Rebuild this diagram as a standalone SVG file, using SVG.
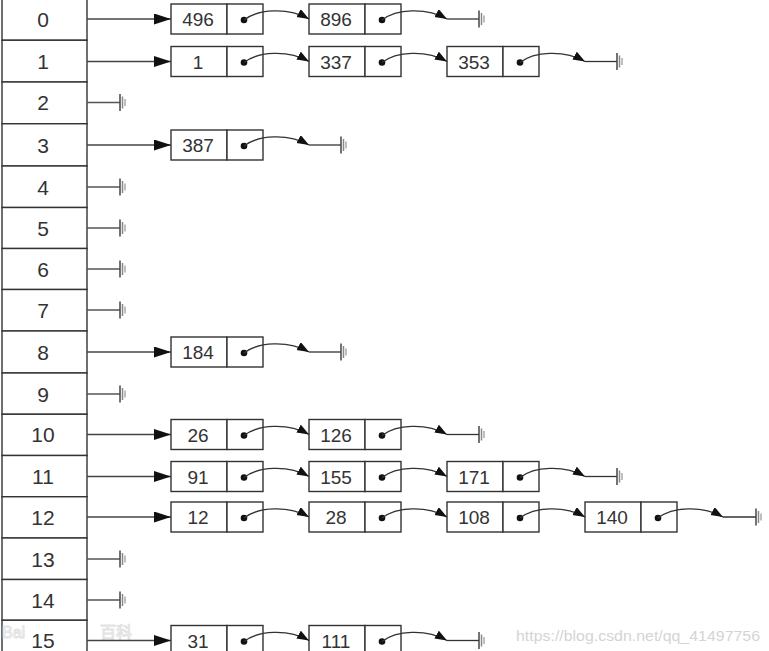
<svg xmlns="http://www.w3.org/2000/svg" xmlns:xlink="http://www.w3.org/1999/xlink" width="769" height="651" viewBox="0 0 769 651">
<style>
.cell{fill:#fff;stroke:#333;stroke-width:1.4}
.box{fill:#fff;stroke:#333;stroke-width:1.4}
.idx{font-family:"Liberation Sans",Arial,sans-serif;font-size:21px;fill:#333;text-anchor:middle}
.val{font-family:"Liberation Sans",Arial,sans-serif;font-size:19px;fill:#333;text-anchor:middle}
.dot{fill:#111}
.head{fill:none;stroke:#444;stroke-width:1.4;marker-end:url(#bigArrow)}
.link{fill:none;stroke:#333;stroke-width:1.3;marker-end:url(#smallArrow)}
.tail{fill:none;stroke:#333;stroke-width:1.3}
.nul{fill:none;stroke:#555;stroke-width:1.4}
.wm{font-family:"Liberation Sans",Arial,sans-serif;font-size:15px;fill:#d4d4d4}
.wm2{font-family:"Liberation Sans","Noto Sans CJK SC",sans-serif;font-size:16px;fill:none;stroke:#e2e2e2;stroke-width:1}
</style>
<defs>
<marker id="bigArrow" markerUnits="userSpaceOnUse" markerWidth="18" markerHeight="12" refX="17" refY="5.5" orient="auto">
<path d="M0,0 L17,5.5 L0,11 z" fill="#111"/>
</marker>
<marker id="smallArrow" markerUnits="userSpaceOnUse" markerWidth="13" markerHeight="10" refX="12" refY="4.5" orient="auto">
<path d="M0,0 L12,4.5 L0,9 z" fill="#111"/>
</marker>
<g id="gnd">
<line x1="0" y1="-8.5" x2="0" y2="8.5" stroke="#444" stroke-width="1.5"/>
<line x1="2.5" y1="-6" x2="2.5" y2="6" stroke="#888" stroke-width="1.5"/>
<line x1="5" y1="-3.5" x2="5" y2="3.5" stroke="#aaa" stroke-width="1.5"/>
</g>
</defs>

<g id="table">
<g id="slot-0"><rect class="cell" x="2" y="-3" width="85" height="43.25"/><text class="idx" x="43" y="26.5">0</text></g>
<g id="slot-1"><rect class="cell" x="2" y="40.25" width="85" height="41.75"/><text class="idx" x="43" y="69">1</text></g>
<g id="slot-2"><rect class="cell" x="2" y="82" width="85" height="41.75"/><text class="idx" x="43" y="110">2</text></g>
<g id="slot-3"><rect class="cell" x="2" y="123.75" width="85" height="42.25"/><text class="idx" x="43" y="152.5">3</text></g>
<g id="slot-4"><rect class="cell" x="2" y="166" width="85" height="41.5"/><text class="idx" x="43" y="194.5">4</text></g>
<g id="slot-5"><rect class="cell" x="2" y="207.5" width="85" height="41"/><text class="idx" x="43" y="235.5">5</text></g>
<g id="slot-6"><rect class="cell" x="2" y="248.5" width="85" height="41"/><text class="idx" x="43" y="276.5">6</text></g>
<g id="slot-7"><rect class="cell" x="2" y="289.5" width="85" height="41.5"/><text class="idx" x="43" y="317.5">7</text></g>
<g id="slot-8"><rect class="cell" x="2" y="331" width="85" height="42"/><text class="idx" x="43" y="359.5">8</text></g>
<g id="slot-9"><rect class="cell" x="2" y="373" width="85" height="41.25"/><text class="idx" x="43" y="401.5">9</text></g>
<g id="slot-10"><rect class="cell" x="2" y="414.25" width="85" height="41.25"/><text class="idx" x="43" y="442">10</text></g>
<g id="slot-11"><rect class="cell" x="2" y="455.5" width="85" height="41.25"/><text class="idx" x="43" y="484">11</text></g>
<g id="slot-12"><rect class="cell" x="2" y="496.75" width="85" height="41.25"/><text class="idx" x="43" y="524.5">12</text></g>
<g id="slot-13"><rect class="cell" x="2" y="538" width="85" height="41.5"/><text class="idx" x="43" y="566.5">13</text></g>
<g id="slot-14"><rect class="cell" x="2" y="579.5" width="85" height="40.75"/><text class="idx" x="43" y="607.5">14</text></g>
<g id="slot-15"><rect class="cell" x="2" y="620.25" width="85" height="41.75"/><text class="idx" x="43" y="648">15</text></g>
</g>

<g id="watermark">
<text class="wm2" x="2" y="638">Bai</text>
<text class="wm2" x="100" y="638">百科</text>
<text class="wm" x="516" y="641" textLength="244" lengthAdjust="spacingAndGlyphs">https://blog.csdn.net/qq_41497756</text>
</g>

<g id="n-0-496"><rect class="box" x="171" y="4" width="56" height="30"/><rect class="box" x="227" y="4" width="36" height="30"/><text class="val" x="198" y="26">496</text><circle class="dot" cx="244" cy="20" r="3.3"/></g>
<g id="n-0-896"><rect class="box" x="309" y="4" width="56" height="30"/><rect class="box" x="365" y="4" width="36" height="30"/><text class="val" x="336" y="26">896</text><circle class="dot" cx="382" cy="20" r="3.3"/></g>

<g id="n-1-1"><rect class="box" x="171" y="46.5" width="56" height="30"/><rect class="box" x="227" y="46.5" width="36" height="30"/><text class="val" x="198" y="68.5">1</text><circle class="dot" cx="244" cy="62.5" r="3.3"/></g>
<g id="n-1-337"><rect class="box" x="309" y="46.5" width="56" height="30"/><rect class="box" x="365" y="46.5" width="36" height="30"/><text class="val" x="336" y="68.5">337</text><circle class="dot" cx="382" cy="62.5" r="3.3"/></g>
<g id="n-1-353"><rect class="box" x="447" y="46.5" width="56" height="30"/><rect class="box" x="503" y="46.5" width="36" height="30"/><text class="val" x="474" y="68.5">353</text><circle class="dot" cx="520" cy="62.5" r="3.3"/></g>

<g id="n-3-387"><rect class="box" x="171" y="130" width="56" height="30"/><rect class="box" x="227" y="130" width="36" height="30"/><text class="val" x="198" y="152">387</text><circle class="dot" cx="244" cy="146" r="3.3"/></g>

<g id="n-8-184"><rect class="box" x="171" y="337" width="56" height="30"/><rect class="box" x="227" y="337" width="36" height="30"/><text class="val" x="198" y="359">184</text><circle class="dot" cx="244" cy="353" r="3.3"/></g>

<g id="n-10-26"><rect class="box" x="171" y="419.5" width="56" height="30"/><rect class="box" x="227" y="419.5" width="36" height="30"/><text class="val" x="198" y="441.5">26</text><circle class="dot" cx="244" cy="435.5" r="3.3"/></g>
<g id="n-10-126"><rect class="box" x="309" y="419.5" width="56" height="30"/><rect class="box" x="365" y="419.5" width="36" height="30"/><text class="val" x="336" y="441.5">126</text><circle class="dot" cx="382" cy="435.5" r="3.3"/></g>

<g id="n-11-91"><rect class="box" x="171" y="461.5" width="56" height="30"/><rect class="box" x="227" y="461.5" width="36" height="30"/><text class="val" x="198" y="483.5">91</text><circle class="dot" cx="244" cy="477.5" r="3.3"/></g>
<g id="n-11-155"><rect class="box" x="309" y="461.5" width="56" height="30"/><rect class="box" x="365" y="461.5" width="36" height="30"/><text class="val" x="336" y="483.5">155</text><circle class="dot" cx="382" cy="477.5" r="3.3"/></g>
<g id="n-11-171"><rect class="box" x="447" y="461.5" width="56" height="30"/><rect class="box" x="503" y="461.5" width="36" height="30"/><text class="val" x="474" y="483.5">171</text><circle class="dot" cx="520" cy="477.5" r="3.3"/></g>

<g id="n-12-12"><rect class="box" x="171" y="502" width="56" height="30"/><rect class="box" x="227" y="502" width="36" height="30"/><text class="val" x="198" y="524">12</text><circle class="dot" cx="244" cy="518" r="3.3"/></g>
<g id="n-12-28"><rect class="box" x="309" y="502" width="56" height="30"/><rect class="box" x="365" y="502" width="36" height="30"/><text class="val" x="336" y="524">28</text><circle class="dot" cx="382" cy="518" r="3.3"/></g>
<g id="n-12-108"><rect class="box" x="447" y="502" width="56" height="30"/><rect class="box" x="503" y="502" width="36" height="30"/><text class="val" x="474" y="524">108</text><circle class="dot" cx="520" cy="518" r="3.3"/></g>
<g id="n-12-140"><rect class="box" x="585" y="502" width="56" height="30"/><rect class="box" x="641" y="502" width="36" height="30"/><text class="val" x="612" y="524">140</text><circle class="dot" cx="658" cy="518" r="3.3"/></g>

<g id="n-15-31"><rect class="box" x="171" y="625.5" width="56" height="30"/><rect class="box" x="227" y="625.5" width="36" height="30"/><text class="val" x="198" y="647.5">31</text><circle class="dot" cx="244" cy="641.5" r="3.3"/></g>
<g id="n-15-111"><rect class="box" x="309" y="625.5" width="56" height="30"/><rect class="box" x="365" y="625.5" width="36" height="30"/><text class="val" x="336" y="647.5">111</text><circle class="dot" cx="382" cy="641.5" r="3.3"/></g>

<g id="connectors">
<path class="head" d="M87,19 H171"/>
<path class="head" d="M87,61.5 H171"/>
<path class="head" d="M87,145 H171"/>
<path class="head" d="M87,352 H171"/>
<path class="head" d="M87,434.5 H171"/>
<path class="head" d="M87,476.5 H171"/>
<path class="head" d="M87,517 H171"/>
<path class="head" d="M87,640.5 H171"/>
<path class="nul" d="M87,102.5 H120"/><use xlink:href="#gnd" x="120" y="102.5"/>
<path class="nul" d="M87,187 H120"/><use xlink:href="#gnd" x="120" y="187"/>
<path class="nul" d="M87,228 H120"/><use xlink:href="#gnd" x="120" y="228"/>
<path class="nul" d="M87,269 H120"/><use xlink:href="#gnd" x="120" y="269"/>
<path class="nul" d="M87,310 H120"/><use xlink:href="#gnd" x="120" y="310"/>
<path class="nul" d="M87,394 H120"/><use xlink:href="#gnd" x="120" y="394"/>
<path class="nul" d="M87,559 H120"/><use xlink:href="#gnd" x="120" y="559"/>
<path class="nul" d="M87,600 H120"/><use xlink:href="#gnd" x="120" y="600"/>
<path class="link" d="M244,20 C258,9 288,7 309,19"/>
<path class="link" d="M382,20 C396,9 426,7 447,19"/>
<path class="tail" d="M447,19 H479"/><use xlink:href="#gnd" x="479" y="19"/>
<path class="link" d="M244,62.5 C258,51.5 288,49.5 309,61.5"/>
<path class="link" d="M382,62.5 C396,51.5 426,49.5 447,61.5"/>
<path class="link" d="M520,62.5 C534,51.5 564,49.5 585,61.5"/>
<path class="tail" d="M585,61.5 H617"/><use xlink:href="#gnd" x="617" y="61.5"/>
<path class="link" d="M244,146 C258,135 288,133 309,145"/>
<path class="tail" d="M309,145 H341"/><use xlink:href="#gnd" x="341" y="145"/>
<path class="link" d="M244,353 C258,342 288,340 309,352"/>
<path class="tail" d="M309,352 H341"/><use xlink:href="#gnd" x="341" y="352"/>
<path class="link" d="M244,435.5 C258,424.5 288,422.5 309,434.5"/>
<path class="link" d="M382,435.5 C396,424.5 426,422.5 447,434.5"/>
<path class="tail" d="M447,434.5 H479"/><use xlink:href="#gnd" x="479" y="434.5"/>
<path class="link" d="M244,477.5 C258,466.5 288,464.5 309,476.5"/>
<path class="link" d="M382,477.5 C396,466.5 426,464.5 447,476.5"/>
<path class="link" d="M520,477.5 C534,466.5 564,464.5 585,476.5"/>
<path class="tail" d="M585,476.5 H617"/><use xlink:href="#gnd" x="617" y="476.5"/>
<path class="link" d="M244,518 C258,507 288,505 309,517"/>
<path class="link" d="M382,518 C396,507 426,505 447,517"/>
<path class="link" d="M520,518 C534,507 564,505 585,517"/>
<path class="link" d="M658,518 C672,507 702,505 723,517"/>
<path class="tail" d="M723,517 H756"/><use xlink:href="#gnd" x="756" y="517"/>
<path class="link" d="M244,641.5 C258,630.5 288,628.5 309,640.5"/>
<path class="link" d="M382,641.5 C396,630.5 426,628.5 447,640.5"/>
<path class="tail" d="M447,640.5 H479"/><use xlink:href="#gnd" x="479" y="640.5"/>
</g>
</svg>
